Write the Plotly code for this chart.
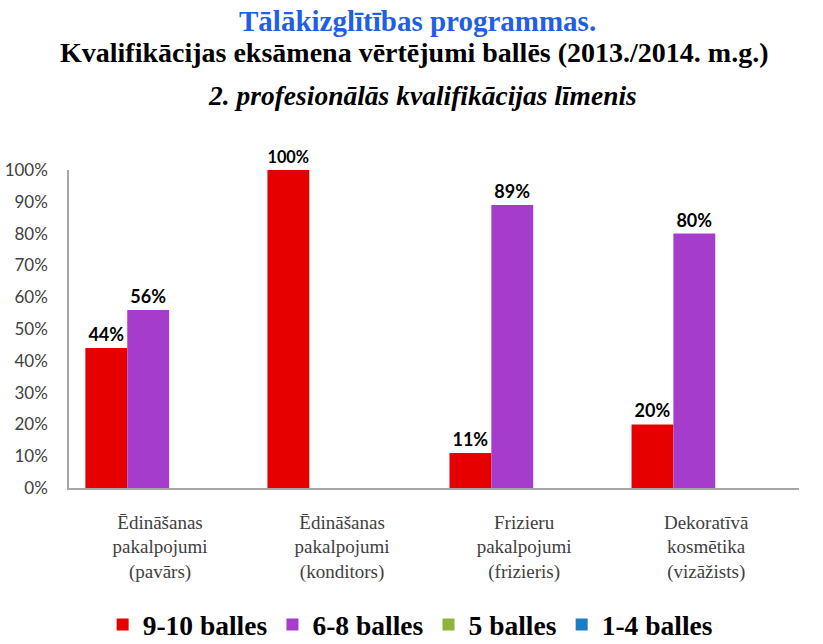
import plotly.graph_objects as go

categories = [
    "Ēdināšanas<br>pakalpojumi<br>(pavārs)",
    "Ēdināšanas<br>pakalpojumi<br>(konditors)",
    "Frizieru<br>pakalpojumi<br>(frizieris)",
    "Dekoratīvā<br>kosmētika<br>(vizāžists)",
]
series_names = ["9-10 balles", "6-8 balles", "5 balles", "1-4 balles"]
v_9_10 = [0.44, 1.00, 0.11, 0.20]
v_6_8 = [0.56, 0.0, 0.89, 0.80]
v_5 = [0.0, 0.0, 0.0, 0.0]
v_1_4 = [0.0, 0.0, 0.0, 0.0]
tick_vals = [0, 0.1, 0.2, 0.3, 0.4, 0.5, 0.6, 0.7, 0.8, 0.9, 1.0]
tick_text = ["0%", "10%", "20%", "30%", "40%", "50%", "60%", "70%", "80%", "90%", "100%"]

colors = ["#E60000", "#A63CCC", "#8DB43C", "#1C7CC4"]
offsets = [-0.41, -0.18, 0.05, 0.28]
values = [v_9_10, v_6_8, v_5, v_1_4]

fig = go.Figure()
for name, vals, col, off in zip(series_names, values, colors, offsets):
    labels = [f"{round(v*100)}%" if v > 0 else "" for v in vals]
    fig.add_trace(go.Bar(
        x=categories, y=vals, name=name,
        marker=dict(color=col, line=dict(width=0)),
        width=0.23, offset=off,
        text=labels, textposition="outside", cliponaxis=False,
        textfont=dict(family="Lato", size=18, color="#000000", weight="bold"),
        hoverinfo="skip",
    ))

fig.update_layout(
    width=823, height=644,
    margin=dict(l=69, r=24, t=170, b=156, autoexpand=False),
    paper_bgcolor="white", plot_bgcolor="white",
    barmode="group",
    showlegend=True,
    legend=dict(
        orientation="h", x=0.468, xanchor="center", y=-0.43, yanchor="middle",
        font=dict(family="Liberation Serif", size=27.5, color="#000000", weight="bold"),
        itemwidth=30, tracegroupgap=0,
    ),
)
fig.update_yaxes(
    range=[0, 1.0], tickvals=tick_vals, ticktext=tick_text,
    showgrid=False, zeroline=False, automargin=False,
    showline=True, linecolor="#A6A6A6", linewidth=1.5,
    ticks="", ticklabelstandoff=16,
    tickfont=dict(family="Lato", size=17, color="#404040"),
)
fig.update_xaxes(
    showgrid=False, showline=True, linecolor="#A6A6A6", linewidth=1.5,
    automargin=False,
    ticks="", ticklabelstandoff=16,
    tickfont=dict(family="Liberation Serif", size=19, color="#404040"),
)

fig.add_annotation(
    text="Tālākizglītības programmas.", xref="paper", yref="paper",
    x=0.478, y=1.0, xanchor="center", yanchor="middle",
    yshift=149, showarrow=False,
    font=dict(family="Liberation Serif", size=29, color="#1F5FE6", weight="bold"),
)
fig.add_annotation(
    text="Kvalifikācijas eksāmena vērtējumi ballēs (2013./2014. m.g.)", xref="paper", yref="paper",
    x=0.472, y=1.0, xanchor="center", yanchor="middle",
    yshift=118, showarrow=False,
    font=dict(family="Liberation Serif", size=28, color="#000000", weight="bold"),
)
fig.add_annotation(
    text="<i>2. profesionālās kvalifikācijas līmenis</i>", xref="paper", yref="paper",
    x=0.484, y=1.0, xanchor="center", yanchor="middle",
    yshift=75, showarrow=False,
    font=dict(family="Liberation Serif", size=27.5, color="#000000", weight="bold"),
)

fig.write_html(
    "out.html",
    config={"displayModeBar": False},
    post_script="document.body.style.margin='0px';",
)
